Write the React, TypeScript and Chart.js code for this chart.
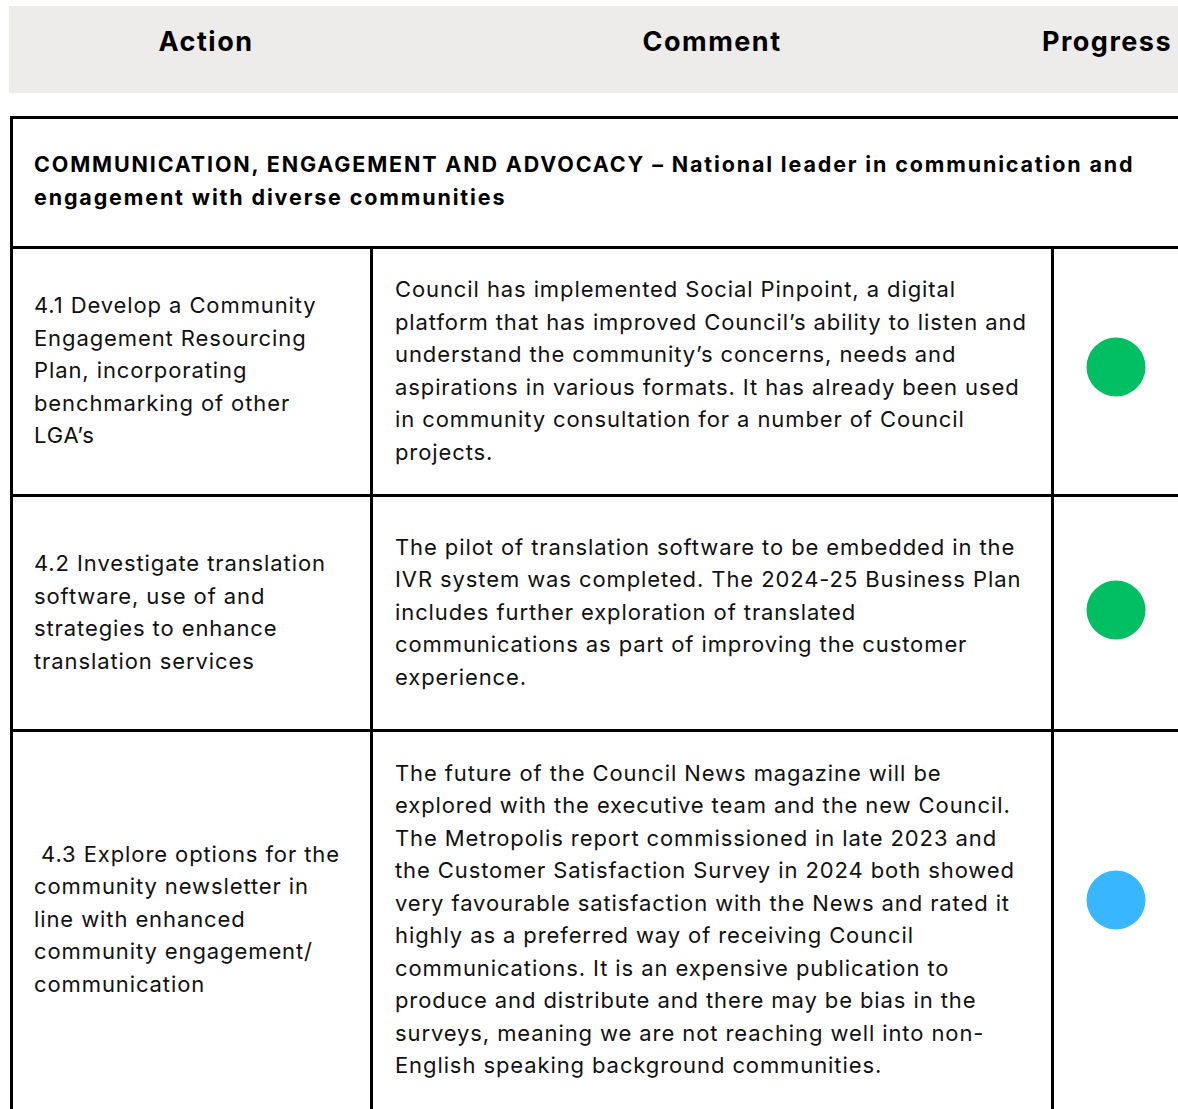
import React, { useEffect, useRef } from "react";
import { Chart, registerables } from "chart.js";

Chart.register(...registerables);

// ---- data ----
const headers = ["Action", "Comment", "Progress"];
const sectionTitle = [
  "COMMUNICATION, ENGAGEMENT AND ADVOCACY – National leader in communication and",
  "engagement with diverse communities",
];
const actions: string[][] = [
  ["4.1 Develop a Community", "Engagement Resourcing", "Plan, incorporating", "benchmarking of other", "LGA’s"],
  ["4.2 Investigate translation", "software, use of and", "strategies to enhance", "translation services"],
  [" 4.3 Explore options for the", "community newsletter in", "line with enhanced", "community engagement/", "communication"],
];
const comments: string[][] = [
  [
    "Council has implemented Social Pinpoint, a digital",
    "platform that has improved Council’s ability to listen and",
    "understand the community’s concerns, needs and",
    "aspirations in various formats. It has already been used",
    "in community consultation for a number of Council",
    "projects.",
  ],
  [
    "The pilot of translation software to be embedded in the",
    "IVR system was completed. The 2024-25 Business Plan",
    "includes further exploration of translated",
    "communications as part of improving the customer",
    "experience.",
  ],
  [
    "The future of the Council News magazine will be",
    "explored with the executive team and the new Council.",
    "The Metropolis report commissioned in late 2023 and",
    "the Customer Satisfaction Survey in 2024 both showed",
    "very favourable satisfaction with the News and rated it",
    "highly as a preferred way of receiving Council",
    "communications. It is an expensive publication to",
    "produce and distribute and there may be bias in the",
    "surveys, meaning we are not reaching well into non-",
    "English speaking background communities.",
  ],
];
const progress = ["complete", "complete", "in progress"];
const statusColors: Record<string, string> = {
  complete: "#00BF63",
  "in progress": "#38B6FF",
};

// ---- layout ----
const BORDER = 3;
const TABLE_LEFT = 10;
const TABLE_TOP = 116;
const TITLE_H = 127;
const ROW_H = [245, 232, 376];
const DOT_AREA_H = [236, 226, 336];
const COL_X = [13, 373, 1054]; // interior left edges
const COL_W = [357, 678, 124];
const FONT = "Inter, 'Noto Sans', sans-serif";

function Dot({ status, height, width }: { status: string; height: number; width: number }) {
  const ref = useRef<HTMLCanvasElement | null>(null);
  useEffect(() => {
    if (!ref.current) return;
    const chart = new Chart(ref.current, {
      type: "scatter",
      data: {
        datasets: [
          {
            data: [{ x: 0, y: 0 }],
            backgroundColor: statusColors[status],
            borderWidth: 0,
            pointRadius: 29.5,
            pointHoverRadius: 29.5,
          },
        ],
      },
      options: {
        animation: false,
        responsive: false,
        maintainAspectRatio: false,
        events: [],
        layout: { padding: 0 },
        plugins: { legend: { display: false }, tooltip: { enabled: false } },
        scales: {
          x: { display: false, min: -1, max: 1 },
          y: { display: false, min: -1, max: 1 },
        },
      },
    });
    return () => chart.destroy();
  }, [status]);
  return <canvas ref={ref} width={width} height={height} style={{ display: "block", width, height }} />;
}

export default function App() {
  const rowTops: number[] = [];
  let y = TABLE_TOP + BORDER + TITLE_H + BORDER;
  ROW_H.forEach((h) => {
    rowTops.push(y);
    y += h + BORDER;
  });

  const hLines = [TABLE_TOP, TABLE_TOP + BORDER + TITLE_H, ...rowTops.slice(1).map((t) => t - BORDER)];
  const bodyTop = rowTops[0];

  const textStyle: React.CSSProperties = {
    fontFamily: FONT,
    fontSize: 22,
    lineHeight: "32.5px",
    color: "#111",
    whiteSpace: "pre",
    letterSpacing: "0.9px",
  };

  return (
    <div
      style={{
        position: "fixed",
        left: 0,
        top: 0,
        width: 1178,
        height: 1109,
        overflow: "hidden",
        background: "#fff",
      }}
    >
      {/* header band */}
      <div style={{ position: "absolute", left: 9, top: 6, width: 1200, height: 87, background: "#EDECEA" }} />
      {[206, 712, 1107].map((cx, i) => (
        <div
          key={i}
          style={{
            position: "absolute",
            left: cx - 150,
            width: 300,
            top: 22,
            height: 40,
            textAlign: "center",
            fontFamily: FONT,
            fontWeight: 700,
            fontSize: 27,
            lineHeight: "40px",
            letterSpacing: "1.5px",
            color: "#000",
          }}
        >
          {headers[i]}
        </div>
      ))}

      {/* table lines */}
      {hLines.map((ly, i) => (
        <div key={"h" + i} style={{ position: "absolute", left: TABLE_LEFT, top: ly, width: 1200, height: BORDER, background: "#000" }} />
      ))}
      <div style={{ position: "absolute", left: TABLE_LEFT, top: TABLE_TOP, width: BORDER, height: 1200, background: "#000" }} />
      {[COL_X[1] - BORDER, COL_X[2] - BORDER].map((lx, i) => (
        <div key={"v" + i} style={{ position: "absolute", left: lx, top: bodyTop, width: BORDER, height: 1200, background: "#000" }} />
      ))}

      {/* section title */}
      <div
        style={{
          position: "absolute",
          left: 34,
          top: TABLE_TOP + BORDER,
          height: TITLE_H - 4,
          display: "flex",
          alignItems: "center",
          fontFamily: FONT,
          fontWeight: 700,
          fontSize: 21.5,
          lineHeight: "33px",
          letterSpacing: "1.85px",
          color: "#000",
          whiteSpace: "pre",
        }}
      >
        <div>
          {sectionTitle.map((l, i) => (
            <div key={i}>{l}</div>
          ))}
        </div>
      </div>

      {/* rows */}
      {rowTops.map((top, r) => (
        <React.Fragment key={r}>
          <div
            style={{
              position: "absolute",
              left: 34,
              top,
              height: ROW_H[r] - 2,
              display: "flex",
              alignItems: "center",
              ...textStyle,
            }}
          >
            <div>
              {actions[r].map((l, i) => (
                <div key={i}>{l}</div>
              ))}
            </div>
          </div>
          <div
            style={{
              position: "absolute",
              left: 395,
              top,
              height: ROW_H[r] - 2,
              display: "flex",
              alignItems: "center",
              ...textStyle,
            }}
          >
            <div>
              {comments[r].map((l, i) => (
                <div key={i}>{l}</div>
              ))}
            </div>
          </div>
          <div style={{ position: "absolute", left: COL_X[2], top, width: COL_W[2], height: DOT_AREA_H[r] }}>
            <Dot status={progress[r]} width={COL_W[2]} height={DOT_AREA_H[r]} />
          </div>
        </React.Fragment>
      ))}
    </div>
  );
}
